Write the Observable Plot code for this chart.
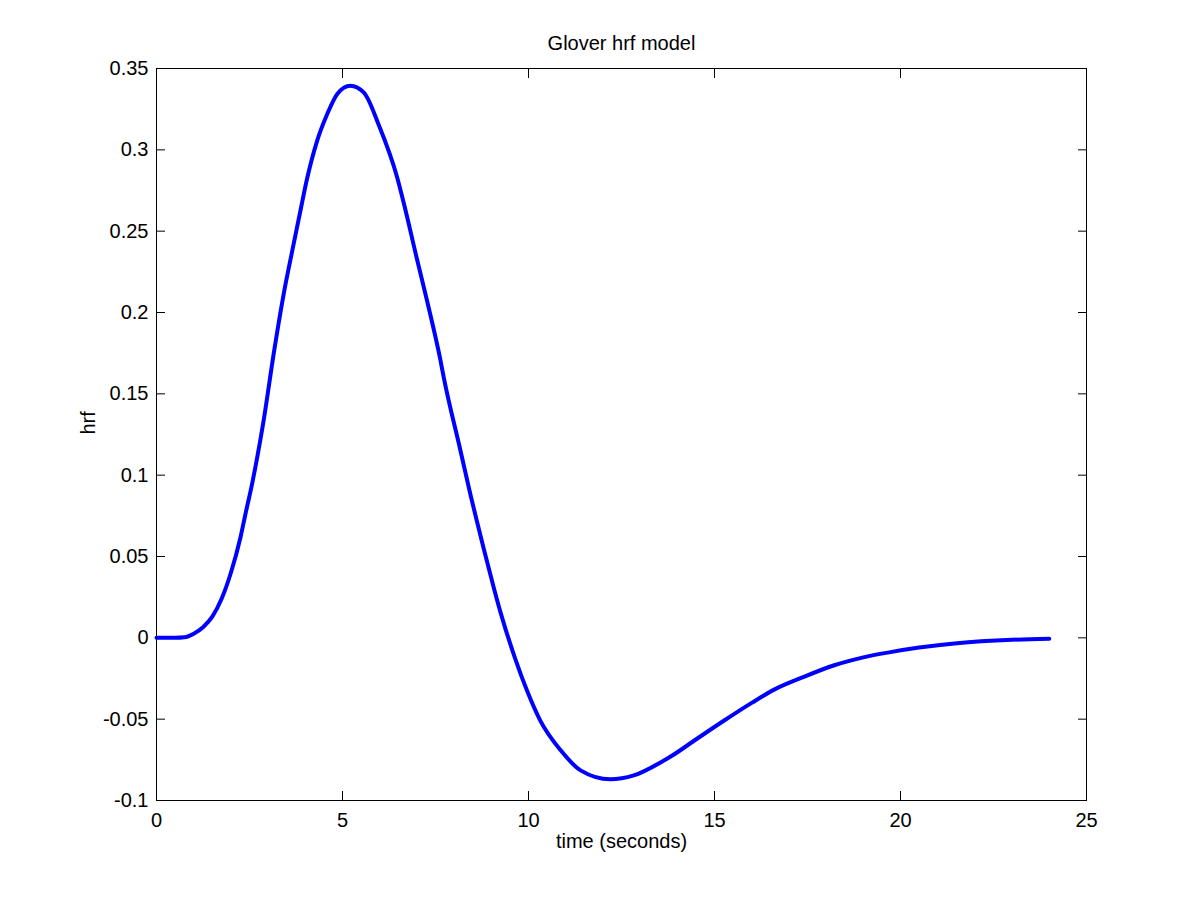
<!DOCTYPE html>
<html>
<head>
<meta charset="utf-8">
<script src="https://cdn.jsdelivr.net/npm/d3@7"></script>
<script src="https://cdn.jsdelivr.net/npm/@observablehq/plot@0.6"></script>
<style>
  html, body { margin: 0; padding: 0; background: #fff; }
  #chart svg { display: block; }
</style>
</head>
<body>
<div id="chart"></div>
<script>
const title = "Glover hrf model";
const xLabel = "time (seconds)";
const yLabel = "hrf";
const xTicks = [0, 5, 10, 15, 20, 25];
const yTicks = [-0.1, -0.05, 0, 0.05, 0.1, 0.15, 0.2, 0.25, 0.3, 0.35];

const time = [0, 0.5, 0.75, 1.0, 1.25, 1.5, 1.75, 2.0, 2.26, 2.39, 2.57, 2.88, 3.15, 3.42, 3.65, 3.87, 4.05, 4.32, 4.59, 4.86, 5.21, 5.57, 5.98, 6.47, 6.65, 7.0, 7.27, 7.63, 7.72, 8.17, 8.44, 8.62, 8.8, 9.07, 9.25, 9.63, 9.97, 10.32, 10.86, 11.4, 12.2, 12.83, 13.64, 13.82, 14.5, 15.25, 16.0, 16.59, 17.4, 18.2, 19.0, 19.73, 20.5, 21.52, 23.0, 24.0];
const hrf = [0, 0, 0.0003, 0.0025, 0.0065, 0.013, 0.024, 0.040, 0.062, 0.076, 0.0947, 0.1336, 0.1746, 0.2115, 0.238, 0.2627, 0.2825, 0.3057, 0.322, 0.3344, 0.3394, 0.3353, 0.315, 0.283, 0.267, 0.233, 0.2075, 0.171, 0.1603, 0.1152, 0.088, 0.071, 0.0545, 0.0305, 0.0155, -0.012, -0.033, -0.051, -0.069, -0.0815, -0.087, -0.0846, -0.0754, -0.073, -0.0625, -0.051, -0.040, -0.032, -0.024, -0.017, -0.012, -0.0088, -0.006, -0.0033, -0.0012, -0.0005];

const data = time.map((t, i) => ({t, v: hrf[i]}));
const fmtY = d => (Math.round(d * 100) / 100).toString();
const blank = () => "";
const FONT = 20;

const chart = Plot.plot({
  width: 1200,
  height: 900,
  marginLeft: 156,
  marginRight: 114,
  marginTop: 68,
  marginBottom: 100,
  style: {fontFamily: "'Liberation Sans', Arial, sans-serif", fontSize: FONT + "px", color: "#000", background: "#fff"},
  x: {domain: [0, 25]},
  y: {domain: [-0.1, 0.35]},
  marks: [
    Plot.frame({stroke: "#000", strokeWidth: 1}),
    // inward ticks on all four sides
    Plot.axisX(xTicks, {anchor: "bottom", tickSize: -9, tickFormat: blank, label: null, stroke: "#000"}),
    Plot.axisX(xTicks, {anchor: "top", tickSize: -9, tickFormat: blank, label: null, stroke: "#000"}),
    Plot.axisY(yTicks, {anchor: "left", tickSize: -9, tickFormat: blank, label: null, stroke: "#000"}),
    Plot.axisY(yTicks, {anchor: "right", tickSize: -9, tickFormat: blank, label: null, stroke: "#000"}),
    // tick labels
    Plot.axisX(xTicks, {anchor: "bottom", tickSize: 0, tickPadding: 12, tickFormat: d => String(d), label: null, fontSize: FONT, fill: "#000"}),
    Plot.axisY(yTicks, {anchor: "left", tickSize: 0, tickPadding: 8, tickFormat: fmtY, label: null, fontSize: FONT, fill: "#000"}),
    // curve
    Plot.line(data, {x: "t", y: "v", stroke: "#0000ff", strokeWidth: 4, curve: "monotone-x"}),
    // title & axis labels
    Plot.text([title], {text: d => d, frameAnchor: "top", dy: -33, fontSize: FONT, fill: "#000"}),
    Plot.text([xLabel], {text: d => d, frameAnchor: "bottom", dy: 47, fontSize: FONT, fill: "#000"}),
    Plot.text([yLabel], {text: d => d, frameAnchor: "left", dx: -68, rotate: -90, fontSize: FONT, fill: "#000"})
  ]
});
document.getElementById("chart").appendChild(chart);
</script>
</body>
</html>
